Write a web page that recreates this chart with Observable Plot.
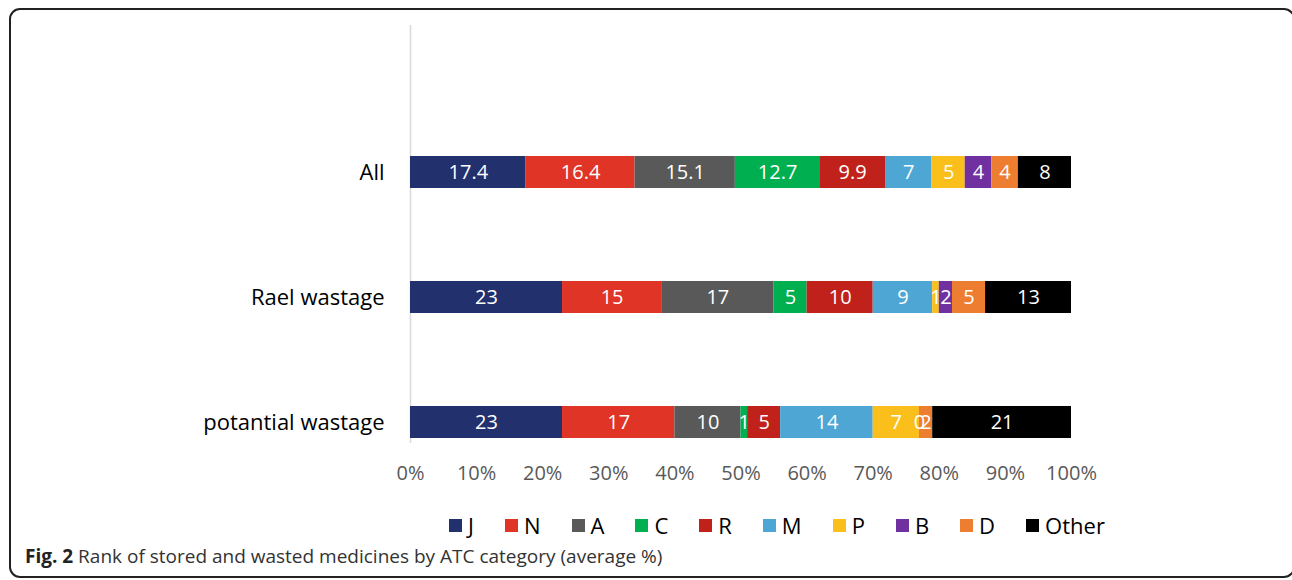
<!DOCTYPE html>
<html>
<head>
<meta charset="utf-8">
<script src="https://cdn.jsdelivr.net/npm/d3@7"></script>
<script src="https://cdn.jsdelivr.net/npm/@observablehq/plot@0.6"></script>
<style>
  html, body { margin: 0; padding: 0; background: #fff; }
  body { width: 1292px; height: 580px; position: relative; overflow: hidden; font-family: "Open Sans", sans-serif; }
  #frame { position: absolute; left: 9px; top: 8px; width: 1286px; height: 570px; box-sizing: border-box;
           border: 2px solid #222; border-radius: 11px; }
  #chart { position: absolute; left: 0; top: 0; }
  #legend { position: absolute; left: 449px; top: 510px; display: flex; align-items: center; font-size: 22px; color: #000; }
  #legend .item { display: flex; align-items: center; margin-right: 31px; }
  #legend .sw { width: 13px; height: 13px; margin-right: 6px; }
  #caption { position: absolute; left: 25px; top: 543px; font-size: 19px; color: #333; white-space: nowrap; }
  #caption b { color: #222; }
</style>
</head>
<body>
<div id="frame"></div>
<div id="chart"></div>
<div id="legend"></div>
<div id="caption"><b>Fig. 2</b> Rank of stored and wasted medicines by ATC category (average %)</div>
<script>
const categories = ["All", "Rael wastage", "potantial wastage"];
const keys = ["J", "N", "A", "C", "R", "M", "P", "B", "D", "Other"];
const colors = ["#22306e", "#e03426", "#595959", "#00b050", "#c0211a", "#4ea6d5", "#fbbf1c", "#7030a0", "#ed7d31", "#000000"];
const allValues = [17.4, 16.4, 15.1, 12.7, 9.9, 7, 5, 4, 4, 8];
const realValues = [23, 15, 17, 5, 10, 9, 1, 2, 5, 13];
const potentialValues = [23, 17, 10, 1, 5, 14, 7, 0, 2, 21];
const xTicks = [0, 0.1, 0.2, 0.3, 0.4, 0.5, 0.6, 0.7, 0.8, 0.9, 1];

const seriesByCat = [allValues, realValues, potentialValues];
const data = [];
categories.forEach((cat, i) => {
  keys.forEach((k, j) => data.push({cat, key: k, value: seriesByCat[i][j]}));
});

const chart = Plot.plot({
  width: 1292,
  height: 495,
  marginLeft: 410,
  marginRight: 221,
  marginTop: 25,
  marginBottom: 52,
  style: {fontFamily: "Open Sans", background: "transparent"},
  x: {domain: [0, 1]},
  y: {domain: categories, range: [92, 502], paddingInner: 0.746, paddingOuter: 0.5},
  color: {domain: keys, range: colors},
  marks: [
    Plot.ruleX([0], {stroke: "#d9d9d9", strokeWidth: 1.5}),
    Plot.barX(data, Plot.stackX({x: "value", y: "cat", fill: "key", z: "key", offset: "normalize"})),
    Plot.text(data, Plot.stackX({x: "value", y: "cat", z: "key", offset: "normalize",
      text: d => String(d.value), fill: "white", fontSize: 20})),
    Plot.axisX({ticks: xTicks, tickFormat: d3.format(".0%"), tickSize: 0, tickPadding: 22,
      fontSize: 20, fill: "#595959", label: null}),
    Plot.axisY({tickSize: 0, tickPadding: 26, fontSize: 22, fill: "#000", label: null})
  ]
});
document.getElementById("chart").appendChild(chart);

const legend = document.getElementById("legend");
keys.forEach((k, j) => {
  const it = document.createElement("div");
  it.className = "item";
  const sw = document.createElement("span");
  sw.className = "sw";
  sw.style.background = colors[j];
  const lab = document.createElement("span");
  lab.textContent = k;
  it.appendChild(sw);
  it.appendChild(lab);
  legend.appendChild(it);
});
</script>
</body>
</html>
